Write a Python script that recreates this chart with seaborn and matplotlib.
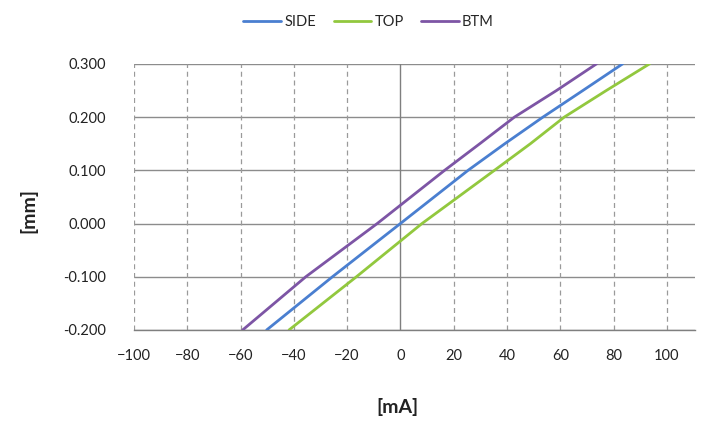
import numpy as np
import pandas as pd
import seaborn as sns
import matplotlib.pyplot as plt

# displacement [mm] levels and the current [mA] read at each level
mm_levels = [-0.2, -0.1, 0.0, 0.1, 0.15, 0.2, 0.25, 0.3]
side_ma = [-50.2, -25.5, 0.0, 25.4, 39.2, 53.5, 68.5, 83.4]
top_ma = [-41.8, -16.5, 8.1, 35.3, 48.8, 61.5, 77.3, 93.5]
btm_ma = [-59.2, -35.5, -8.7, 16.6, 29.8, 42.8, 58.6, 73.6]

series = ['SIDE', 'TOP', 'BTM']
colors = ['#4a7fd0', '#92c83e', '#7d55a5']
x_ticks = [-100, -80, -60, -40, -20, 0, 20, 40, 60, 80, 100]
y_ticks = [-0.2, -0.1, 0.0, 0.1, 0.2, 0.3]

n = len(mm_levels)
df = pd.DataFrame({
    'mA': side_ma + top_ma + btm_ma,
    'mm': mm_levels * 3,
    'series': ['SIDE'] * n + ['TOP'] * n + ['BTM'] * n,
})

sns.set_theme(style='white')
plt.rcParams['font.family'] = ['Lato', 'DejaVu Sans']

fig = plt.figure(figsize=(7.09, 4.23), dpi=100)
ax = fig.add_axes([0.189, 0.220, 0.791, 0.629])

# grid first so the lines sit on top
for yv in y_ticks:
    ax.axhline(yv, color='#8c8c8c', lw=1.0, zorder=1)
for xv in x_ticks:
    if xv == 0:
        ax.axvline(xv, color='#7f7f7f', lw=1.0, zorder=1)
    else:
        ax.axvline(xv, color='#9a9a9a', lw=0.9, ls=(0, (4, 3)), zorder=1)

sns.lineplot(data=df, x='mA', y='mm', hue='series', hue_order=series,
             palette=colors, sort=False, estimator=None, lw=2.0, ax=ax, zorder=3)

ax.set_xlim(-100, 110.5)
ax.set_ylim(-0.2, 0.3)
ax.set_xticks(x_ticks)
ax.set_yticks(y_ticks)
ax.set_yticklabels([f'{v:.3f}' for v in y_ticks])
ax.tick_params(axis='x', length=0, pad=14, labelsize=10.5, colors='#222222')
ax.tick_params(axis='y', length=0, pad=20, labelsize=10.5, colors='#222222')
for side in ['left', 'right', 'top']:
    ax.spines[side].set_visible(False)
ax.spines['bottom'].set_color('#7f7f7f')
ax.spines['bottom'].set_linewidth(1.0)

ax.set_xlabel('[mA]', fontsize=14, fontweight='bold', color='#222222')
ax.set_ylabel('[mm]', fontsize=14, fontweight='bold', color='#222222')
ax.xaxis.set_label_coords(0.47, -0.255)
ax.yaxis.set_label_coords(-0.172, 0.45)

handles, labels = ax.get_legend_handles_labels()
ax.get_legend().remove()
fig.legend(handles, labels, loc='center', bbox_to_anchor=(0.52, 0.948), ncol=3,
           frameon=False, fontsize=10.5, handlelength=2.6, handletextpad=0.2,
           columnspacing=1.2)

fig.savefig('out.png', dpi=100)
